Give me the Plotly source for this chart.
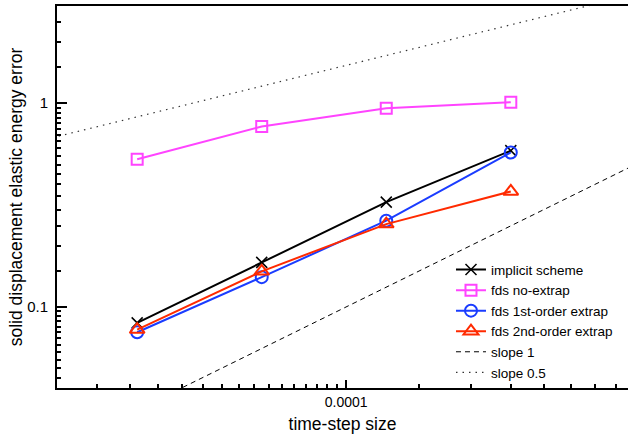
import numpy as np
import plotly.graph_objects as go

# ============================
# dados
# ============================
dt = [3.125e-5, 6.25e-5, 1.25e-4, 2.5e-4]

implicit_scheme = [0.0835, 0.1655, 0.327, 0.585]
fds_no_extrap = [0.531, 0.768, 0.945, 1.011]
fds_1st_order = [0.0751, 0.140, 0.265, 0.573]
fds_2nd_order = [0.0774, 0.1495, 0.255, 0.369]

# retas de referência (extremos)
slope_x = [1e-5, 1e-3]
slope1_y = [0.01, 1.0]
slope05_y = [0.485, 4.85]

# ============================
# ticks
# ============================
x_major = [1e-4]
x_major_text = ["0.0001"]
x_minor = [k * 5e-6 for k in range(4, 20)] + [k * 5e-5 for k in range(3, 10)]

y_major = [0.1, 1]
y_major_text = ["0.1", "1"]
y_minor = ([k * 0.005 for k in range(8, 20)] + [k * 0.05 for k in range(3, 20)]
           + [1.5, 2.0, 2.5])

fonte = "Liberation Sans, Arial, sans-serif"

fig = go.Figure()

fig.add_trace(go.Scatter(
    x=dt, y=implicit_scheme, name="implicit scheme", mode="lines+markers",
    line=dict(color="black", width=2),
    marker=dict(symbol="x-thin-open", size=11, line=dict(color="black", width=1.5))
))
fig.add_trace(go.Scatter(
    x=dt, y=fds_no_extrap, name="fds no-extrap", mode="lines+markers",
    line=dict(color="#ff44ff", width=2),
    marker=dict(symbol="square-open", size=11, color="#ff44ff", line=dict(width=2))
))
fig.add_trace(go.Scatter(
    x=dt, y=fds_1st_order, name="fds 1st-order extrap", mode="lines+markers",
    line=dict(color="#1a3cff", width=2),
    marker=dict(symbol="circle-open", size=12, color="#1a3cff", line=dict(width=2))
))
fig.add_trace(go.Scatter(
    x=dt, y=fds_2nd_order, name="fds 2nd-order extrap", mode="lines+markers",
    line=dict(color="#ff2a00", width=2),
    marker=dict(symbol="triangle-up-open", size=13, color="#ff2a00", line=dict(width=2))
))
fig.add_trace(go.Scatter(
    x=slope_x, y=slope1_y, name="slope 1", mode="lines",
    line=dict(color="black", width=1, dash="5px,4px")
))
fig.add_trace(go.Scatter(
    x=slope_x, y=slope05_y, name="slope 0.5", mode="lines",
    line=dict(color="#333333", width=1.2, dash="1.5px,5px")
))

fig.update_xaxes(
    type="log", range=[np.log10(2e-5), np.log10(4.8e-4)],
    tickvals=x_major, ticktext=x_major_text,
    ticks="inside", ticklen=8, tickwidth=1.5, tickcolor="black",
    minor=dict(tickvals=x_minor, ticks="inside", ticklen=4, tickcolor="black", showgrid=False),
    showline=True, linewidth=2, linecolor="black", mirror=True,
    showgrid=False, zeroline=False, automargin=False,
    tickfont=dict(size=14, color="black"), ticklabelstandoff=0,
    title=dict(text="time-step size", font=dict(size=17.5, color="black"), standoff=10),
)
fig.update_yaxes(
    type="log", range=[np.log10(0.04), np.log10(3.0)],
    tickvals=y_major, ticktext=y_major_text,
    ticks="inside", ticklen=10, tickwidth=1.5, tickcolor="black",
    minor=dict(tickvals=y_minor, ticks="inside", ticklen=4, tickcolor="black", showgrid=False),
    showline=True, linewidth=2, linecolor="black",
    showgrid=False, zeroline=False, automargin=False,
    tickfont=dict(size=15, color="black"), ticklabelstandoff=4,
    title=dict(text="solid displacement elastic energy error", font=dict(size=17.5, color="black"), standoff=0),
)

fig.update_layout(
    width=628, height=434,
    margin=dict(l=57, r=0, t=6, b=46),
    plot_bgcolor="white", paper_bgcolor="white",
    font=dict(family=fonte, color="black"),
    legend=dict(
        x=0.69, y=0.35, xanchor="left", yanchor="top",
        bgcolor="rgba(0,0,0,0)", font=dict(size=13.5),
        tracegroupgap=0, itemwidth=30,
    ),
)

# tira a margem padrão do body para a figura ficar no canto
fig.write_html("out.html", config={"displayModeBar": False},
               post_script="document.body.style.margin='0';")
